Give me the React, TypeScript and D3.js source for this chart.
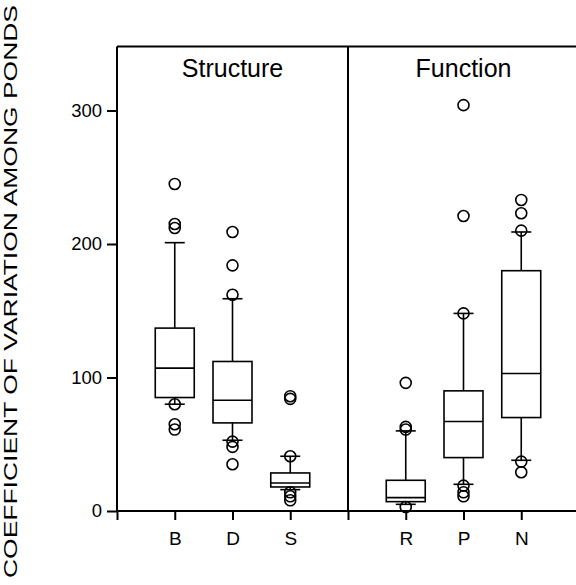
import { useEffect, useRef } from 'react'
import * as d3 from 'd3'

const categories = ['B', 'D', 'S', 'R', 'P', 'N']
const positions = [1, 2, 3, 5, 6, 7]
const q1 = [85, 66, 18, 7, 40, 70]
const medians = [107, 83, 21, 10, 67, 103]
const q3 = [137, 112, 28.5, 23, 90, 180]
const whiskerLow = [80, 53, 16, 5, 20, 38]
const whiskerHigh = [201, 159, 41, 60, 148, 209]
const outliers = [
  [245, 215, 212, 80, 65, 61],
  [209, 184, 162, 52, 48, 35],
  [86, 84, 41, 14, 11, 8],
  [96, 63, 61, 3],
  [304, 221, 148, 19, 14, 11],
  [233, 223, 210, 37, 29],
]
const yTicks = [0, 100, 200, 300]
const panels = [
  { title: 'Structure', from: 0, to: 4 },
  { title: 'Function', from: 4, to: 8 },
]

const W = 576
const H = 585
const FONT = '"Liberation Sans", Arial, sans-serif'

export default function App() {
  const svgRef = useRef<SVGSVGElement>(null)

  useEffect(() => {
    if (!svgRef.current) return
    const svg = d3.select(svgRef.current)
    svg.selectAll('*').remove()

    const x = d3.scaleLinear().domain([0, 8]).range([117, 579])
    const y = d3.scaleLinear().domain([0, 300]).range([511, 110.5])
    const yTop = y(348)
    const yBot = y(0)

    const boxW = x(0.675) - x(0)
    const capW = 20

    // frame
    const frame = svg.append('g').attr('stroke', '#000').attr('stroke-width', 2).attr('fill', 'none')
    frame.append('line').attr('x1', x(0)).attr('x2', W).attr('y1', yTop).attr('y2', yTop)
    frame.append('line').attr('x1', x(0)).attr('x2', W).attr('y1', yBot).attr('y2', yBot)
    frame.append('line').attr('x1', x(0)).attr('x2', x(0)).attr('y1', yTop).attr('y2', yBot)
    frame.append('line').attr('x1', x(4)).attr('x2', x(4)).attr('y1', yTop).attr('y2', yBot)

    // y axis
    const yAxis = d3.axisLeft(y).tickValues(yTicks).tickSize(10).tickPadding(5).tickSizeOuter(0)
    const gy = svg.append('g').attr('transform', `translate(${x(0)},0)`).call(yAxis)
    gy.select('.domain').remove()
    gy.selectAll('line').attr('stroke', '#000').attr('stroke-width', 2)
    gy.selectAll('text')
      .attr('font-family', FONT)
      .attr('font-size', 18.5)
      .attr('fill', '#000')

    // x axis
    const xAxis = d3.axisBottom(x)
      .tickValues([0, ...positions, 4])
      .tickSize(9)
      .tickPadding(12)
      .tickSizeOuter(0)
      .tickFormat(d => {
        const i = positions.indexOf(d as number)
        return i >= 0 ? categories[i] : ''
      })
    const gx = svg.append('g').attr('transform', `translate(0,${yBot})`).call(xAxis)
    gx.select('.domain').remove()
    gx.selectAll('line').attr('stroke', '#000').attr('stroke-width', 2)
    gx.selectAll('text')
      .attr('font-family', FONT)
      .attr('font-size', 19)
      .attr('fill', '#000')

    // panel titles
    panels.forEach(p => {
      svg.append('text')
        .attr('x', (x(p.from) + Math.min(x(p.to), 579)) / 2)
        .attr('y', 77)
        .attr('text-anchor', 'middle')
        .attr('font-family', FONT)
        .attr('font-size', 25)
        .attr('fill', '#000')
        .text(p.title)
    })

    // y label
    svg.append('text')
      .attr('transform', `translate(17,${291.5}) rotate(-90)`)
      .attr('text-anchor', 'middle')
      .attr('font-family', FONT)
      .attr('font-size', 18.7)
      .attr('textLength', 573)
      .attr('lengthAdjust', 'spacingAndGlyphs')
      .attr('fill', '#000')
      .text('COEFFICIENT OF VARIATION AMONG PONDS')

    // boxes
    const g = svg.append('g').attr('stroke', '#000').attr('fill', 'none').attr('stroke-width', 1.6)
    categories.forEach((c, i) => {
      const cx = x(positions[i])
      g.append('line').attr('x1', cx).attr('x2', cx).attr('y1', y(whiskerLow[i])).attr('y2', y(q1[i]))
      g.append('line').attr('x1', cx).attr('x2', cx).attr('y1', y(q3[i])).attr('y2', y(whiskerHigh[i]))
      g.append('line').attr('x1', cx - capW / 2).attr('x2', cx + capW / 2)
        .attr('y1', y(whiskerLow[i])).attr('y2', y(whiskerLow[i]))
      g.append('line').attr('x1', cx - capW / 2).attr('x2', cx + capW / 2)
        .attr('y1', y(whiskerHigh[i])).attr('y2', y(whiskerHigh[i]))
      g.append('rect')
        .attr('x', cx - boxW / 2)
        .attr('y', y(q3[i]))
        .attr('width', boxW)
        .attr('height', y(q1[i]) - y(q3[i]))
      g.append('line').attr('x1', cx - boxW / 2).attr('x2', cx + boxW / 2)
        .attr('y1', y(medians[i])).attr('y2', y(medians[i]))
      outliers[i].forEach(v => {
        g.append('circle').attr('cx', cx).attr('cy', y(v)).attr('r', 5.5)
      })
    })
  }, [])

  return (
    <svg
      ref={svgRef}
      width={W}
      height={H}
      style={{ position: 'absolute', left: 0, top: 0, background: '#fff', display: 'block' }}
    />
  )
}
